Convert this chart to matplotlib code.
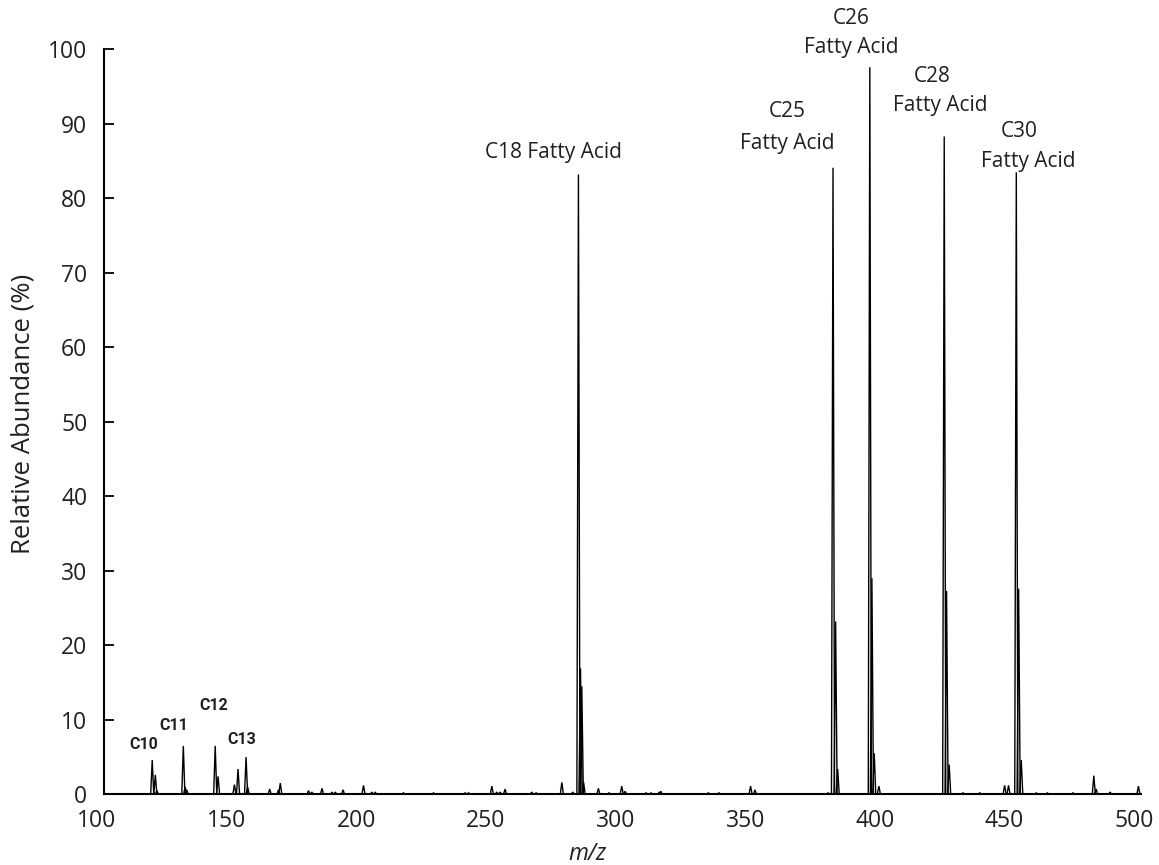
import matplotlib
matplotlib.use("Agg")
import matplotlib.pyplot as plt
import matplotlib.transforms as mtransforms

plt.rcParams['font.family'] = ['Open Sans', 'DejaVu Sans']

# Centroided peaks of the mass spectrum: m/z and relative abundance (%)
mz = [118.6, 119.8, 120.4, 130.6, 131.3, 131.9, 142.9, 144.0, 150.3, 151.7,
      154.8, 155.4, 163.9, 167.3, 168.0, 178.9, 180.2, 184.1, 187.9, 189.2,
      192.2, 200.1, 203.3, 204.6, 215.5, 227.1, 239.3, 240.6, 249.6, 251.5,
      252.8, 254.7, 265.0, 266.7, 276.6, 280.8, 283.0, 283.8, 284.3, 285.0,
      290.7, 294.8, 299.7, 301.0, 309.1, 311.0, 314.2, 314.8, 333.1, 337.2,
      349.4, 351.1, 379.3, 381.2, 382.2, 383.0, 395.4, 396.2, 397.1, 398.9,
      424.1, 425.0, 426.0, 431.3, 437.8, 447.4, 448.9, 451.9, 452.8, 453.8,
      459.6, 463.9, 473.7, 481.8, 482.7, 488.1, 499.0]
abundance = [4.6, 2.6, 0.5, 6.5, 1.0, 0.6, 6.5, 2.4, 1.3, 3.4,
             5.0, 1.0, 0.7, 0.6, 1.5, 0.5, 0.3, 0.8, 0.3, 0.3,
             0.6, 1.2, 0.3, 0.3, 0.2, 0.2, 0.2, 0.2, 1.1, 0.3,
             0.3, 0.7, 0.3, 0.2, 1.6, 0.3, 83.2, 16.9, 14.5, 1.6,
             0.8, 0.2, 1.1, 0.4, 0.2, 0.2, 0.3, 0.4, 0.2, 0.2,
             1.1, 0.6, 0.2, 84.1, 23.2, 3.4, 97.6, 29.0, 5.5, 1.1,
             88.3, 27.3, 4.0, 0.2, 0.2, 1.2, 1.2, 83.5, 27.6, 4.6,
             0.2, 0.2, 0.2, 2.5, 0.7, 0.3, 1.1]

x_ticks = [100, 150, 200, 250, 300, 350, 400, 450, 500]
y_ticks = [0, 10, 20, 30, 40, 50, 60, 70, 80, 90, 100]

# Fatty acid labels (one entry per text line)
fa_labels = [
    ("C18 Fatty Acid", 273.2, 86.2),
    ("C25", 363.6, 91.6), ("Fatty Acid", 363.4, 87.4),
    ("C26", 388.3, 104.2), ("Fatty Acid", 388.2, 100.3),
    ("C28", 419.5, 96.4), ("Fatty Acid", 422.4, 92.5),
    ("C30", 453.0, 88.9), ("Fatty Acid", 456.6, 85.0),
]
# Small-fragment labels
frag_labels = [("C10", 115.2, 6.75), ("C11", 126.8, 9.3),
               ("C12", 142.2, 11.9), ("C13", 153.0, 7.4)]

TEXT = "#231f20"
W, H = 1159, 865
fig = plt.figure(figsize=(W / 100, H / 100), dpi=100)
ax = fig.add_axes([104 / W, (H - 794.3) / H, 1037 / W, 745 / H])

# Profile-style peaks: each centroid drawn as a narrow triangle
half = 0.6
for m, a in zip(mz, abundance):
    ax.plot([m - half, m, m + half], [0, a, 0], color="black", lw=1.0,
            solid_joinstyle="miter")

ax.set_xlim(100, 500)
ax.set_ylim(0, 100)
ax.set_xticks(x_ticks)
ax.set_yticks(y_ticks)

for side in ("top", "right"):
    ax.spines[side].set_visible(False)
for side in ("left", "bottom"):
    ax.spines[side].set_linewidth(1.5)
    ax.spines[side].set_color("black")

ax.tick_params(axis="x", length=0, pad=10.5, labelsize=16.5, labelcolor=TEXT)
ax.tick_params(axis="y", direction="in", length=7.5, width=1.3, pad=12,
               labelsize=16.5, labelcolor=TEXT)

shift = mtransforms.ScaledTranslation(-7 / 100, 0, fig.dpi_scale_trans)
for lbl in ax.get_xticklabels():
    lbl.set_transform(lbl.get_transform() + shift)

ax.set_ylabel("Relative Abundance (%)", fontsize=18.5, color=TEXT)
ax.yaxis.set_label_coords(-0.066, 0.51)
ax.set_xlabel("m/z", fontsize=16.5, color=TEXT, style="italic")
ax.xaxis.set_label_coords(0.466, -0.064)

for txt, x, y in fa_labels:
    ax.text(x, y, txt, ha="center", va="center", fontsize=15, color=TEXT)
for txt, x, y in frag_labels:
    ax.text(x, y, txt, ha="center", va="center", fontsize=11.5,
            fontweight="bold", color=TEXT,
            family=["Liberation Sans Narrow", "Roboto", "DejaVu Sans"])

fig.savefig("out.png", dpi=100)
